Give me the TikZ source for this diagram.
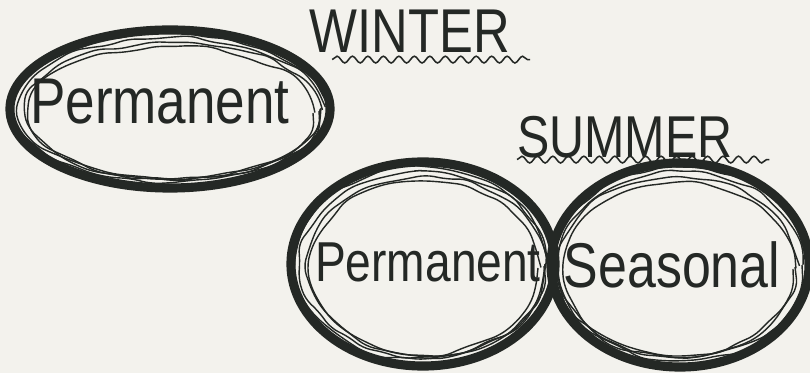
\documentclass[tikz,border=0pt]{standalone}
\usepackage{fontspec}
\setmainfont{Liberation Sans}
\newfontfamily\handfont[FakeStretch=0.82]{Liberation Sans}
\usetikzlibrary{shapes.geometric,decorations.pathmorphing,positioning,calc}
\definecolor{ink}{RGB}{36,40,37}
\definecolor{paper}{RGB}{243,242,237}

\begin{document}
\begin{tikzpicture}[
  x=0.025cm, y=-0.025cm,
  ring/.style={
    draw=ink,
    ellipse,
    line width=6.5pt,
    inner sep=0pt
  },
  sketch/.style={
    draw=ink,
    line width=1pt,
    decorate,
    decoration={random steps, segment length=14pt, amplitude=2pt},
    rounded corners=6pt
  },
  word/.style={text=ink, font=\handfont\fontsize{46}{48}\selectfont, inner sep=0pt},
  season/.style={text=ink, font=\handfont\fontsize{44}{46}\selectfont, inner sep=0pt},
  wave/.style={draw=ink, line width=1.1pt, decorate, decoration={snake, amplitude=2.4pt, segment length=11pt}}
]

% paper and fixed frame
\fill[paper] (0,0) rectangle (810,373);
\useasboundingbox (0,0) rectangle (810,373);

% Winter: a single ring
\node[ring, minimum width=8.0cm, minimum height=3.95cm] (winter) at (170,109) {};
\foreach \dx/\dy/\rx/\ry in {0/0/150/71, 3/2/146/68, -2/-1/153/74, 1/4/142/66} {
  \draw[sketch] ($(winter.center)+(\dx,\dy)$) ellipse [x radius=\rx, y radius=\ry];
}
\node[word] (wperm) at (160,102) {Permanent};

\node[season] (wlabel) at (410,31) {WINTER};
\draw[wave] ([xshift=16pt, yshift=-5pt]wlabel.south west) -- ([xshift=14pt, yshift=-5pt]wlabel.south east);

% Summer: two rings joined as a figure eight
\node[season, font=\handfont\fontsize{42}{44}\selectfont] (slabel) at (625,137) {SUMMER};
\draw[wave] ([yshift=-1pt]slabel.south west) -- ([xshift=26pt, yshift=-1pt]slabel.south east);

\node[ring, minimum width=6.6cm, minimum height=5.1cm] (sperm) at (423,264) {};
\node[ring, minimum width=6.45cm, minimum height=5.1cm] (sseas) at (680,265) {};
\foreach \dx/\dy/\rx/\ry in {0/0/122/93, 3/2/118/89, -2/-1/125/96, 1/4/114/86} {
  \draw[sketch] ($(sperm.center)+(\dx,\dy)$) ellipse [x radius=\rx, y radius=\ry];
  \draw[sketch] ($(sseas.center)+(-\dx,\dy)$) ellipse [x radius=\rx, y radius=\ry];
}
\node[word, font=\handfont\fontsize{40}{42}\selectfont] (pperm) at (428,262) {Permanent};
\node[word, font=\handfont\fontsize{45}{47}\selectfont] (pseas) at (672,265) {Seasonal};

\end{tikzpicture}
\end{document}
